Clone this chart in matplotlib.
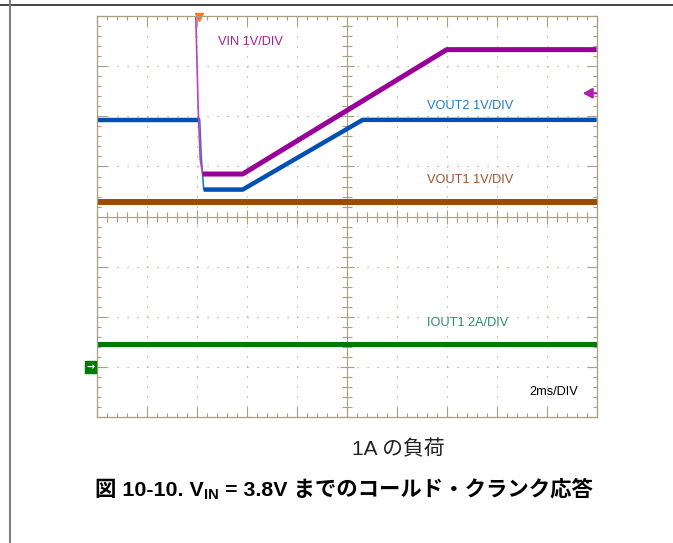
import numpy as np
import matplotlib
matplotlib.use('Agg')
import matplotlib.pyplot as plt
from matplotlib.lines import Line2D

# scope capture, units are divisions (10 x 8), 2 ms/div
vin_t = [1.98, 2.03, 2.07, 2.12, 2.92, 7.00, 10.0]
vin_v = [8.05, 6.14, 5.14, 4.85, 4.85, 7.33, 7.33]

vout2_t = [0.0, 2.06, 2.09, 2.14, 2.92, 5.32, 10.0]
vout2_v = [5.93, 5.93, 5.20, 4.54, 4.54, 5.93, 5.93]

vout1_t = [0.0, 10.0]
vout1_v = [4.30, 4.30]

iout1_t = [0.0, 10.0]
iout1_v = [1.47, 1.47]

labels = ['VIN 1V/DIV', 'VOUT2 1V/DIV', 'VOUT1 1V/DIV', 'IOUT1 2A/DIV']
label_x = [2.42, 6.60, 6.60, 6.60]
label_y = [7.48, 6.20, 4.74, 1.88]

purple = '#990099'
blue = '#0050b4'
brown = '#9c4c00'
green = '#007a00'
label_colors = ['#a020a0', '#1e7ec8', '#a0522d', '#2e8b6a']
tan = '#a99f82'

latin = ['Liberation Sans', 'Noto Sans CJK JP']

fig = plt.figure(figsize=(6.73, 5.43), dpi=100)
pos = [0.1437, 0.2315, 0.7429, 0.7390]

# center cross axes, drawn below the traces
axc = fig.add_axes(pos)
axc.set_xlim(0, 10)
axc.set_ylim(0, 8)
for s in ['top', 'right']:
    axc.spines[s].set_visible(False)
axc.spines['left'].set_position(('data', 5))
axc.spines['bottom'].set_position(('data', 4))
for s in ['left', 'bottom']:
    axc.spines[s].set_color(tan)
    axc.spines[s].set_linewidth(0.8)
axc.set_xticks(np.arange(0, 11, 1))
axc.set_xticks(np.arange(0, 10.01, 0.2), minor=True)
axc.set_yticks(np.arange(0, 9, 1))
axc.set_yticks(np.arange(0, 8.01, 0.2), minor=True)
axc.tick_params(which='both', direction='inout', color=tan, width=0.8,
                labelbottom=False, labelleft=False)
axc.tick_params(which='major', length=10)
axc.tick_params(which='minor', length=6.5)

# main axes with frame, grid and traces
ax = fig.add_axes(pos)
ax.set_zorder(axc.get_zorder() + 1)
ax.patch.set_visible(False)
ax.set_xlim(0, 10)
ax.set_ylim(0, 8)
ax.set_xticks(np.arange(0, 11, 1))
ax.set_xticks(np.arange(0, 10.01, 0.2), minor=True)
ax.set_yticks(np.arange(0, 9, 1))
ax.set_yticks(np.arange(0, 8.01, 0.2), minor=True)
ax.tick_params(which='both', direction='in', top=True, right=True, color=tan,
               width=0.8, labelbottom=False, labelleft=False)
ax.tick_params(which='major', length=7.2)
ax.tick_params(which='minor', length=3.2)
for s in ax.spines.values():
    s.set_color(tan)
    s.set_linewidth(0.9)
ax.grid(True, which='major', color=tan, linestyle=(0, (1, 8)), linewidth=0.8)

# traces: fast edges thin, the rest thick
ax.plot(vout1_t, vout1_v, color=brown, lw=4.3, solid_capstyle='butt')
ax.plot(iout1_t, iout1_v, color=green, lw=3.6, solid_capstyle='butt')
ax.plot(vout2_t[:2], vout2_v[:2], color=blue, lw=3.2, solid_capstyle='butt')
ax.plot(vout2_t[1:4], vout2_v[1:4], color='#2a78d0', lw=1.2)
ax.plot(vout2_t[3:], vout2_v[3:], color=blue, lw=3.2, solid_capstyle='butt')
ax.plot(vin_t[:4], vin_v[:4], color='#c040c0', lw=1.2)
ax.plot(vin_t[3:], vin_v[3:], color=purple, lw=3.6, solid_capstyle='butt')

# channel labels
for txt, x, y, c in zip(labels, label_x, label_y, label_colors):
    ax.text(x, y, txt, color=c, fontsize=9.2, family=latin, va='center', ha='left')
ax.text(8.66, 0.51, '2ms/DIV', color='black', fontsize=9.2, family=latin,
        va='center', ha='left')

# markers: trigger, IOUT1 ground, VIN offset arrow
ax.plot([2.05], [7.98], marker='v', color='#ff7722', ms=6, clip_on=False)
ax.text(-0.12, 1.0, '→', color='white', fontsize=7, ha='center', va='center',
        fontweight='bold', clip_on=False,
        bbox=dict(boxstyle='square,pad=0.12', fc=green, ec=green))
ax.annotate('', xy=(9.72, 6.46), xytext=(9.99, 6.46),
            arrowprops=dict(arrowstyle='-|>,head_width=0.3,head_length=0.55',
                            color='#b020b0', lw=1.6, shrinkA=0, shrinkB=0))

# caption and title
fig.text(0.5915, 1 - 455 / 543, '1A の負荷', fontsize=15, color='#222222',
         family=latin, ha='center', va='baseline')
t1 = fig.text(95 / 673, 1 - 496 / 543, '図 10-10. V', fontsize=15.4,
              fontweight='bold', family=latin, ha='left', va='baseline')
sub = plt.annotate('IN', xy=(1, 0), xycoords=t1, xytext=(0.3, -1.5),
                   textcoords='offset points', fontsize=10.5, fontweight='bold',
                   family=latin, ha='left', va='bottom', annotation_clip=False)
plt.annotate(' = 3.8V までのコールド・クランク応答', xy=(1, 0), xycoords=(sub, t1),
             xytext=(0, 0), textcoords='offset points', fontsize=15.4,
             fontweight='bold', family=latin, ha='left', va='bottom',
             annotation_clip=False)

# page frame lines
fig.add_artist(Line2D([0, 1], [1 - 4.7 / 543] * 2, color='#444444', lw=1.4,
                      transform=fig.transFigure))
fig.add_artist(Line2D([10 / 673] * 2, [0, 1], color='#808080', lw=1.5,
                      transform=fig.transFigure))

fig.savefig('out.png', dpi=100)
